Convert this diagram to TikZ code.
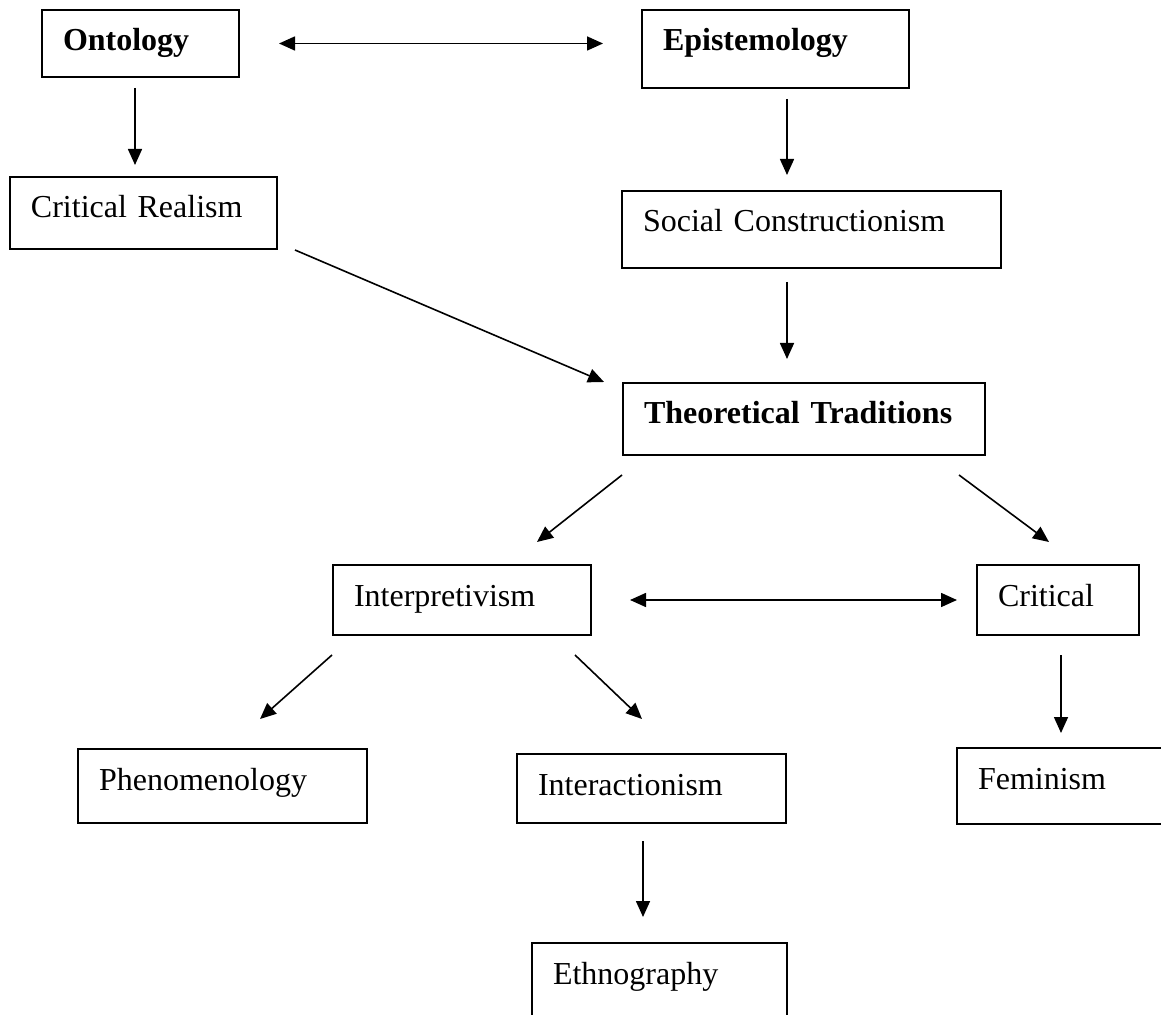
\documentclass[tikz,border=0pt]{standalone}
\usepackage{fontspec}
\setmainfont{Liberation Serif}
\usetikzlibrary{arrows.meta}
\tikzset{
  box/.style 2 args={draw, line width=1pt, anchor=north west, align=left,
    inner xsep=10.5pt, inner ysep=0pt, font=\fontsize{16}{19}\selectfont,
    text width=#1*0.5pt-21pt, text height=20.5pt, text depth=#2*0.5pt-20.5pt},
  bold/.style={font=\fontsize{16}{19}\selectfont\bfseries},
  link/.style={line width=0.8pt, -{Triangle[length=8pt,width=7pt]}},
  both/.style={line width=0.8pt, {Triangle[length=8pt,width=7pt]}-{Triangle[length=8pt,width=7pt]}}
}

\begin{document}
\begin{tikzpicture}[x=0.5pt,y=-0.5pt]
    \useasboundingbox (0,0) rectangle (1161,1015);

    % Ontology / Epistemology

    \node[box={197}{67}, bold] (onto) at (41,9) {Ontology};
    \node[box={267}{78}, bold] (epi) at (641,9) {Epistemology};
    \node[box={267}{72}] (cr) at (9,176) {Critical Realism};
    \node[box={379}{77}] (sc) at (621,190) {Social Constructionism};

    \draw[both, shorten <=19.5pt, shorten >=19pt] (onto.east) -- (onto.east -| epi.west);
    \draw[link, shorten <=5pt, shorten >=5.5pt] ([xshift=-2.75pt]onto.south) -- ([xshift=-2.75pt]onto.south |- cr.north);
    \draw[link, shorten <=5pt, shorten >=7.5pt] ([xshift=5.75pt]epi.south) -- ([xshift=5.75pt]epi.south |- sc.north);

    % Traditions

    \node[box={362}{72}, bold] (tt) at (622,382) {Theoretical Traditions};
    \draw[link] ([xshift=8.5pt]cr.south east) -- ([xshift=-9pt]tt.north west);
    \draw[link, shorten <=6.5pt, shorten >=11.5pt] ([xshift=-12.25pt]sc.south) -- ([xshift=-12.25pt]sc.south |- tt.north);

    \node[box={258}{70}] (interp) at (332,564) {Interpretivism};
    \node[box={162}{70}] (crit) at (976,564) {Critical};
    \draw[link] ([yshift=-9.5pt]tt.south west) -- ([shift={(-27.5pt,11pt)}]interp.north east);
    \draw[link] ([shift={(-13.5pt,-9.5pt)}]tt.south east) -- ([shift={(-4.5pt,11pt)}]crit.north);
    \draw[both, shorten <=19pt, shorten >=9.5pt] (interp.east) -- (crit.west);

    % Bottom

    \node[box={289}{74}] (phen) at (77,748) {Phenomenology};
    \node[box={269}{69}] (inter) at (516,753) {Interactionism};
    \node[box={240}{76}] (fem) at (956,747) {Feminism};
    \node[box={255}{100}] (ethno) at (531,942) {Ethnography};

    \draw[link] ([yshift=-9.5pt]interp.south west) -- ([shift={(18.75pt,14.5pt)}]phen.north);
    \draw[link] ([shift={(-8.5pt,-9.5pt)}]interp.south east) -- ([shift={(-4.75pt,17pt)}]inter.north);
    \draw[link, shorten <=9.5pt, shorten >=7pt] ([xshift=1.5pt]crit.south) -- ([xshift=1.5pt]crit.south |- fem.north);
    \draw[link, shorten <=8.5pt, shorten >=12.5pt] ([xshift=-4.25pt]inter.south) -- ([xshift=-4.25pt]inter.south |- ethno.north);
\end{tikzpicture}
\end{document}
